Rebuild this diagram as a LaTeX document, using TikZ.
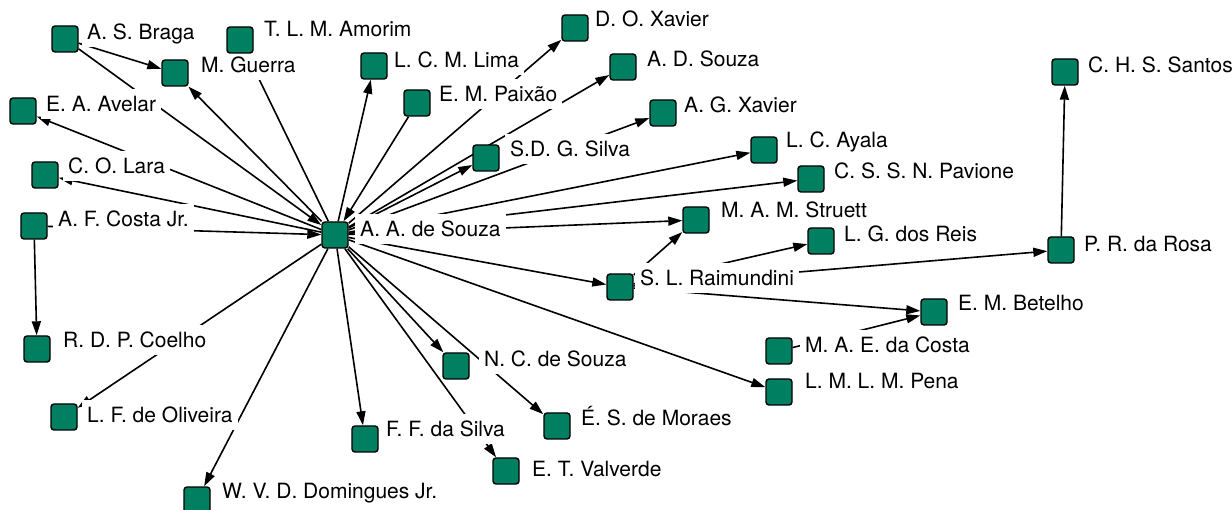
\documentclass[tikz,border=0pt]{standalone}
\usepackage{fontspec}
\setmainfont{TeX Gyre Heros}
\usetikzlibrary{arrows.meta}
\pgfdeclarelayer{bg}
\pgfdeclarelayer{edges}
\pgfsetlayers{bg,edges,main}
\definecolor{boxgreen}{RGB}{0,128,96}
\tikzset{
  box/.style={rectangle, draw=black, line width=1.4pt, fill=boxgreen, minimum size=26pt, inner sep=0pt, rounded corners=3pt},
  lbl/.style={fill=white, anchor=base west, xshift=-4pt, inner xsep=5pt, inner ysep=4pt, text height=19pt, text depth=3pt, font=\fontsize{21}{25}\selectfont},
  link/.style={line width=1.6pt, draw=black},
  arr/.style={link, -{Triangle[length=14pt,width=9pt]}}
}
\begin{document}
\begin{tikzpicture}[x=1pt,y=-1pt]
\useasboundingbox (0,0) rectangle (1232,510);
\begin{pgfonlayer}{bg}
\fill[white] (0,0) rectangle (1232,510);
\end{pgfonlayer}
% labels
\node[lbl] (lbraga) at (86,40) {A. S. Braga};
\node[lbl] (lamorim) at (263,37) {T. L. M. Amorim};
\node[lbl] (lguerra) at (200,73) {M. Guerra};
\node[lbl] (llima) at (393,68) {L. C. M. Lima};
\node[lbl] (lavelar) at (45,112) {E. A. Avelar};
\node[lbl] (llara) at (67,174) {C. O. Lara};
\node[lbl] (lcostajr) at (57,227) {A. F. Costa Jr.};
\node[lbl] (lsouza) at (359,237) {A. A. de Souza};
\node[lbl] (ldoxavier) at (594,27) {D. O. Xavier};
\node[lbl] (ladsouza) at (646,67) {A. D. Souza};
\node[lbl] (lpaixao) at (438,102) {E. M. Paixão};
\node[lbl] (lagxavier) at (683,113) {A. G. Xavier};
\node[lbl] (lsdg) at (509,157) {S.D. G. Silva};
\node[lbl] (layala) at (785,148) {L. C. Ayala};
\node[lbl] (lpavione) at (833,179) {C. S. S. N. Pavione};
\node[lbl] (lstruett) at (720,218) {M. A. M. Struett};
\node[lbl] (lreis) at (843,242) {L. G. dos Reis};
\node[lbl] (lrosa) at (1083,252) {P. R. da Rosa};
\node[lbl] (lsantos) at (1087,73) {C. H. S. Santos};
\node[lbl] (lraimundini) at (639,286) {S. L. Raimundini};
\node[lbl] (lbetelho) at (957,311) {E. M. Betelho};
\node[lbl] (lmaecosta) at (804,353) {M. A. E. da Costa};
\node[lbl] (lpena) at (804,389) {L. M. L. M. Pena};
\node[lbl] (lncsouza) at (483,367) {N. C. de Souza};
\node[lbl] (lmoraes) at (580,426) {É. S. de Moraes};
\node[lbl] (lvalverde) at (531,476) {E. T. Valverde};
\node[lbl] (lffsilva) at (385,437) {F. F. da Silva};
\node[lbl] (ldomingues) at (221,498) {W. V. D. Domingues Jr.};
\node[lbl] (lcoelho) at (62,348) {R. D. P. Coelho};
\node[lbl] (loliveira) at (86,423) {L. F. de Oliveira};
% boxes
\node[box] (braga) at (65,39) {};
\node[box] (guerra) at (175,73) {};
\node[box] (amorim) at (240,40) {};
\node[box] (lima) at (374,66) {};
\node[box] (avelar) at (23,111) {};
\node[box] (lara) at (45,175) {};
\node[box] (costajr) at (34,226) {};
\node[box] (souza) at (335,235) {};
\node[box] (paixao) at (417,103) {};
\node[box] (doxavier) at (575,28) {};
\node[box] (adsouza) at (623,67) {};
\node[box] (agxavier) at (663,113) {};
\node[box] (sdg) at (486,158) {};
\node[box] (ayala) at (764,150) {};
\node[box] (pavione) at (811,179) {};
\node[box] (struett) at (696,220) {};
\node[box] (reis) at (821,241) {};
\node[box] (rosa) at (1061,250) {};
\node[box] (santos) at (1065,72) {};
\node[box] (raimundini) at (620,287) {};
\node[box] (betelho) at (934,312) {};
\node[box] (maecosta) at (779,351) {};
\node[box] (pena) at (779,392) {};
\node[box] (ncsouza) at (456,366) {};
\node[box] (moraes) at (557,426) {};
\node[box] (valverde) at (506,471) {};
\node[box] (ffsilva) at (365,439) {};
\node[box] (domingues) at (197,500) {};
\node[box] (coelho) at (37,349) {};
\node[box] (oliveira) at (64,417) {};
% edges
\begin{pgfonlayer}{edges}
\draw[arr] (braga) -- (guerra);
\draw[arr] (braga) -- (souza);
\draw[arr] (souza) -- (guerra);
\draw[link] (souza) -- (amorim);
\draw[arr] (souza) -- (lima);
\draw[arr] (paixao) -- (souza);
\draw[arr] (souza) -- (doxavier);
\draw[arr] (souza) -- (adsouza);
\draw[arr] (souza) -- (sdg);
\draw[arr] (souza) -- (agxavier);
\draw[arr] (souza) -- (ayala);
\draw[arr] (souza) -- (pavione);
\draw[arr] (souza) -- (struett);
\draw[arr] (raimundini) -- (struett);
\draw[arr] (raimundini) -- (reis);
\draw[arr] (raimundini) -- (rosa);
\draw[arr] (raimundini) -- (betelho);
\draw[arr] (maecosta) -- (betelho);
\draw[arr] (rosa) -- (santos);
\draw[arr] (souza) -- (raimundini);
\draw[arr] (souza) -- (pena);
\draw[arr] (souza) -- (ncsouza);
\draw[arr] (souza) -- (moraes);
\draw[arr] (souza) -- (valverde);
\draw[arr] (souza) -- (ffsilva);
\draw[arr] (souza) -- (domingues);
\draw[arr] (souza) -- (oliveira);
\draw[arr] (costajr) -- (coelho);
\draw[arr] (costajr) -- (souza);
\draw[arr] (souza) -- (lara);
\draw[arr] (souza) -- (avelar);
\end{pgfonlayer}
\end{tikzpicture}
\end{document}
